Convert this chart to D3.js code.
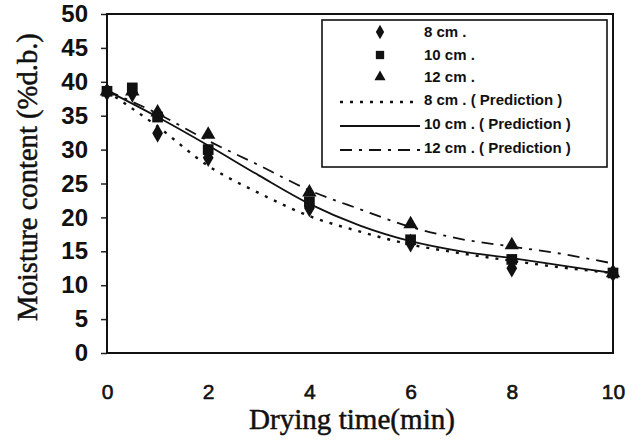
<!DOCTYPE html>
<html>
<head>
<meta charset="utf-8">
<script src="https://cdn.jsdelivr.net/npm/d3@7"></script>
<style>
  html, body { margin: 0; padding: 0; background: #fff; }
  svg { display: block; }
</style>
</head>
<body>
<svg id="chart" width="642" height="441"></svg>
<script>
// Measured drying times (min) and moisture content (% d.b.) per layer thickness
const timeObs = [0, 0.5, 1, 2, 4, 6, 8, 10];
const obs8  = [38.5, 38.3, 32.4, 28.8, 21.4, 16.2, 12.5, 11.8];
const obs10 = [38.6, 39.1, 34.8, 30.0, 22.3, 16.7, 13.8, 11.8];
const obs12 = [38.6, 38.6, 35.5, 32.2, 23.7, 19.0, 15.9, 11.8];

// Model predictions at whole minutes
const timePred = [0, 1, 2, 3, 4, 5, 6, 7, 8, 9, 10];
const pred8  = [38.6, 33.4, 27.6, 23.6, 20.2, 17.9, 16.0, 14.7, 13.6, 12.6, 11.8];
const pred10 = [38.7, 34.8, 30.6, 26.2, 22.0, 18.8, 16.5, 15.0, 14.0, 12.9, 11.8];
const pred12 = [38.7, 35.3, 31.3, 27.7, 24.0, 21.2, 18.6, 16.8, 15.7, 14.6, 13.2];

const xTicks = [0, 2, 4, 6, 8, 10];
const yTicks = [0, 5, 10, 15, 20, 25, 30, 35, 40, 45, 50];

const legendLabels = ["8 cm .", "10 cm .", "12 cm .",
  "8 cm . ( Prediction )", "10 cm . ( Prediction )", "12 cm . ( Prediction )"];

const svg = d3.select("#chart");
const plot = { left: 107, right: 613, top: 14, bottom: 353 };

const x = d3.scaleLinear().domain([0, 10]).range([plot.left, plot.right]);
const y = d3.scaleLinear().domain([0, 50]).range([plot.bottom, plot.top]);

// Y axis with outward ticks
const yAxis = svg.append("g")
  .attr("transform", `translate(${plot.left},0)`)
  .call(d3.axisLeft(y).tickValues(yTicks).tickSize(6).tickPadding(13));
yAxis.select(".domain").remove();
yAxis.selectAll(".tick line").attr("stroke", "#222").attr("stroke-width", 1.5);
yAxis.selectAll(".tick text")
  .attr("font-family", "'Liberation Sans', Arial, sans-serif")
  .attr("font-size", 24).attr("font-weight", "bold").attr("fill", "#111");

// X axis labels only
const xAxis = svg.append("g")
  .attr("transform", `translate(0,${plot.bottom})`)
  .call(d3.axisBottom(x).tickValues(xTicks).tickSize(0).tickPadding(31));
xAxis.select(".domain").remove();
xAxis.selectAll(".tick text")
  .attr("font-family", "'Liberation Sans', Arial, sans-serif")
  .attr("font-size", 21).attr("fill", "#111")
  .attr("stroke", "#111").attr("stroke-width", 0.6);

// Plot frame
svg.append("rect")
  .attr("x", plot.left).attr("y", plot.top)
  .attr("width", plot.right - plot.left).attr("height", plot.bottom - plot.top)
  .attr("fill", "none").attr("stroke", "#111").attr("stroke-width", 2);

// Axis titles, sized to span a set length
function fitText(sel, target) {
  const len = sel.node().getComputedTextLength();
  const fs = parseFloat(sel.attr("font-size"));
  sel.attr("font-size", fs * target / len);
}
const yTitle = svg.append("text")
  .attr("transform", "translate(37,177) rotate(-90)")
  .attr("text-anchor", "middle")
  .attr("font-family", "'Liberation Serif', 'Times New Roman', serif")
  .attr("font-size", 24).attr("fill", "#111")
  .attr("stroke", "#111").attr("stroke-width", 0.5)
  .text("Moisture content (%d.b.)");
fitText(yTitle, 288);

const xTitle = svg.append("text")
  .attr("x", 352).attr("y", 429)
  .attr("text-anchor", "middle")
  .attr("font-family", "'Liberation Serif', 'Times New Roman', serif")
  .attr("font-size", 24).attr("fill", "#111")
  .attr("stroke", "#111").attr("stroke-width", 0.5)
  .text("Drying time(min)");
fitText(xTitle, 206);

// Prediction curves
const styles = [
  { data: pred8,  dash: "3,7",      width: 2.4 },
  { data: pred10, dash: null,       width: 1.8 },
  { data: pred12, dash: "12,7,3,7", width: 1.8 }
];
const line = d3.line()
  .x((d, i) => x(timePred[i]))
  .y(d => y(d))
  .curve(d3.curveMonotoneX);

styles.forEach(s => {
  svg.append("path")
    .attr("d", line(s.data))
    .attr("fill", "none")
    .attr("stroke", "#111")
    .attr("stroke-width", s.width)
    .attr("stroke-dasharray", s.dash);
});

// Measured points
const markers = [
  { data: obs8,  type: d3.symbolDiamond,  size: 100 },
  { data: obs10, type: d3.symbolSquare,   size: 115 },
  { data: obs12, type: d3.symbolTriangle, size: 90 }
];
markers.forEach(m => {
  svg.append("g").selectAll("path")
    .data(m.data)
    .join("path")
    .attr("transform", (d, i) => `translate(${x(timeObs[i])},${y(d)})`)
    .attr("d", d3.symbol().type(m.type).size(m.size))
    .attr("fill", "#111");
});

// Legend
const lg = svg.append("g");
lg.append("rect")
  .attr("x", 322).attr("y", 20).attr("width", 285).attr("height", 147)
  .attr("fill", "#fff").attr("stroke", "#111").attr("stroke-width", 1.6);

const rowY = [32, 55, 77, 100, 124, 148];
markers.forEach((m, i) => {
  lg.append("path")
    .attr("transform", `translate(380,${rowY[i]})`)
    .attr("d", d3.symbol().type(m.type).size(m.size * 0.6))
    .attr("fill", "#111");
});
styles.forEach((s, i) => {
  lg.append("line")
    .attr("x1", 340).attr("x2", 420)
    .attr("y1", rowY[i + 3] + 2).attr("y2", rowY[i + 3] + 2)
    .attr("stroke", "#111")
    .attr("stroke-width", s.width)
    .attr("stroke-dasharray", s.dash);
});
lg.selectAll("text.leg")
  .data(legendLabels)
  .join("text")
  .attr("class", "leg")
  .attr("x", 424)
  .attr("y", (d, i) => rowY[i] + 5)
  .attr("font-family", "'Liberation Sans Narrow', 'Liberation Sans', Arial, sans-serif")
  .attr("font-size", 15).attr("font-weight", "bold").attr("fill", "#111")
  .text(d => d);
</script>
</body>
</html>
